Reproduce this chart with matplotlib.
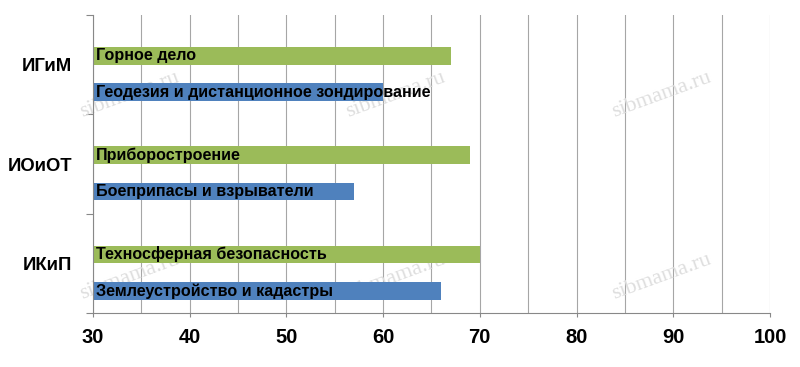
import matplotlib
matplotlib.use("Agg")
import matplotlib.pyplot as plt
import numpy as np

# institutes from top to bottom
institutes = ["ИГиМ", "ИОиОТ", "ИКиП"]
green_labels = ["Горное дело", "Приборостроение", "Техносферная безопасность"]
green_values = [67, 69, 70]
blue_labels = ["Геодезия и дистанционное зондирование",
               "Боеприпасы и взрыватели",
               "Землеустройство и кадастры"]
blue_values = [60, 57, 66]
xticks = [30, 40, 50, 60, 70, 80, 90, 100]

plt.rcParams['font.family'] = ['Liberation Sans', 'DejaVu Sans']

fig = plt.figure(figsize=(8, 3.67), dpi=100)
ax = fig.add_axes([0.116, 0.147, 0.8465, 0.812])

idx = np.arange(len(institutes))
h = 0.176
green = "#9BBB59"
blue = "#4F81BD"

ax.barh(idx + 0.41, np.array(green_values) - 30, left=30, height=h,
        color=green, zorder=2)
ax.barh(idx + 0.777, np.array(blue_values) - 30, left=30, height=h,
        color=blue, zorder=2)

for i in idx:
    ax.text(30.35, i + 0.41, green_labels[i], va="center", ha="left",
            fontsize=11.6, fontweight="bold", zorder=3)
    ax.text(30.35, i + 0.777, blue_labels[i], va="center", ha="left",
            fontsize=11.6, fontweight="bold", zorder=3)

ax.set_xlim(30, 100)
ax.set_ylim(3, 0)

ax.set_xticks(xticks)
ax.set_xticklabels([str(x) for x in xticks], fontsize=14.5, fontweight="bold")
ax.set_xticks(np.arange(35, 101, 5), minor=True)
ax.tick_params(axis="x", which="major", length=3, color="#888888", pad=8)
ax.tick_params(axis="x", which="minor", length=0)
ax.grid(axis="x", which="both", color="#a6a6a6", linewidth=0.8)
ax.set_axisbelow(True)

# category boundaries as ticks, names in the middle
ax.set_yticks([0, 1, 2, 3])
ax.set_yticklabels([])
ax.set_yticks(idx + 0.5, minor=True)
ax.set_yticklabels(institutes, minor=True, fontsize=13.3, fontweight="bold")
ax.tick_params(axis="y", which="major", length=5, color="#888888")
ax.tick_params(axis="y", which="minor", length=0, pad=15)

for s in ["top", "right"]:
    ax.spines[s].set_visible(False)
ax.spines["left"].set_color("#888888")
ax.spines["bottom"].set_color("#888888")

# sibmama.ru watermarks
for fx in [0.1625, 0.494, 0.8275]:
    for fy in [0.74, 0.245]:
        ax.text(fx, fy, "sibmama.ru", transform=fig.transFigure,
                ha="center", va="center", rotation=20, fontsize=16,
                family="Liberation Serif", color="#dedede", zorder=1,
                clip_on=False)

fig.savefig("out.png", dpi=100)
